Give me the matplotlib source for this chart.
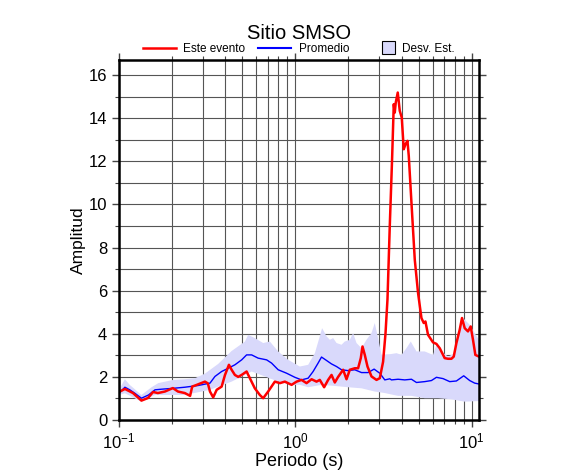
import matplotlib
matplotlib.use("Agg")
import matplotlib.pyplot as plt
from matplotlib.ticker import LogLocator, MultipleLocator, LogFormatterSciNotation, NullFormatter
from matplotlib.patches import Patch, Rectangle
from matplotlib.lines import Line2D
from matplotlib.legend_handler import HandlerPatch

plt.rcParams['font.family'] = ['Liberation Sans', 'DejaVu Sans']
plt.rcParams['mathtext.fontset'] = 'custom'
plt.rcParams['mathtext.rm'] = 'Liberation Sans'
plt.rcParams['mathtext.it'] = 'Liberation Sans:italic'

# --- data ---
event_T = [0.100, 0.108, 0.120, 0.134, 0.146, 0.156, 0.166, 0.182, 0.202, 0.216, 0.236, 0.253,
           0.260, 0.276, 0.307, 0.319, 0.328, 0.342, 0.358, 0.382, 0.399, 0.420, 0.435, 0.454,
           0.474, 0.496, 0.529, 0.552, 0.589, 0.629, 0.657, 0.701, 0.765, 0.817, 0.872, 0.952,
           1.016, 1.084, 1.157, 1.236, 1.318, 1.376, 1.456, 1.534, 1.604, 1.674, 1.748, 1.866,
           1.950, 2.036, 2.173, 2.269, 2.350, 2.403, 2.476, 2.565, 2.703, 2.885, 3.012, 3.144,
           3.244, 3.330, 3.431, 3.536, 3.615, 3.662, 3.710, 3.808, 3.909, 4.012, 4.118, 4.211,
           4.322, 4.397, 4.554, 4.755, 4.964, 5.188, 5.346, 5.466, 5.654, 6.035, 6.310, 6.588,
           7.031, 7.341, 7.674, 7.908, 8.191, 8.551, 8.811, 9.128, 9.528, 9.870, 10.17, 10.49, 11.0]
event_A = [1.30, 1.44, 1.25, 0.90, 1.02, 1.30, 1.25, 1.32, 1.48, 1.32, 1.25, 1.12,
           1.55, 1.63, 1.78, 1.70, 1.32, 1.05, 1.40, 1.55, 2.09, 2.56, 2.33, 2.09,
           2.00, 2.09, 2.25, 1.94, 1.47, 1.16, 1.01, 1.32, 1.78, 1.71, 1.78, 1.63,
           1.78, 1.86, 1.71, 1.89, 1.78, 1.86, 1.52, 1.86, 2.09, 1.74, 2.00, 2.33,
           1.89, 2.33, 2.40, 2.40, 2.87, 3.41, 3.02, 2.48, 2.02, 1.86, 1.94, 2.70,
           4.00, 5.60, 9.00, 12.10, 14.65, 14.26, 14.73, 15.19, 14.34, 14.03, 12.56, 12.79,
           12.95, 12.25, 10.08, 7.44, 5.89, 4.73, 4.50, 4.57, 3.95, 3.60, 3.53, 3.33,
           2.87, 2.84, 2.84, 2.94, 3.57, 4.19, 4.73, 4.26, 4.11, 4.34, 3.72, 3.02, 2.94]

mean_T = [0.100, 0.108, 0.115, 0.123, 0.134, 0.147, 0.160, 0.175, 0.203, 0.236, 0.281, 0.328,
          0.350, 0.382, 0.416, 0.454, 0.496, 0.529, 0.565, 0.615, 0.687, 0.733, 0.799, 0.892,
          0.994, 1.084, 1.182, 1.261, 1.346, 1.407, 1.503, 1.604, 1.712, 1.827, 1.991, 2.173,
          2.372, 2.585, 2.796, 3.012, 3.215, 3.431, 3.508, 3.823, 4.173, 4.554, 4.862, 5.416,
          5.911, 6.310, 6.877, 7.506, 8.191, 9.010, 9.743, 10.40, 11.0]
mean_A = [1.24, 1.52, 1.40, 1.24, 1.01, 1.16, 1.40, 1.43, 1.47, 1.52, 1.60, 1.71,
          2.02, 2.25, 2.40, 2.56, 2.79, 3.02, 3.02, 2.87, 2.79, 2.64, 2.33, 2.17,
          1.98, 1.86, 1.94, 2.25, 2.64, 2.92, 2.76, 2.60, 2.48, 2.33, 2.29, 2.33,
          2.20, 2.20, 2.36, 2.17, 1.86, 1.91, 1.86, 1.89, 1.86, 1.89, 1.74, 1.78,
          1.83, 1.98, 1.92, 1.78, 1.81, 2.05, 1.83, 1.71, 1.67]

upper_T = [0.100, 0.108, 0.115, 0.134, 0.153, 0.167, 0.203, 0.236, 0.270, 0.307, 0.365, 0.435,
           0.518, 0.540, 0.589, 0.657, 0.717, 0.799, 0.911, 1.060, 1.182, 1.290, 1.376, 1.418,
           1.503, 1.569, 1.638, 1.712, 1.827, 1.907, 2.036, 2.126, 2.222, 2.372, 2.532, 2.703,
           2.821, 2.945, 3.079, 3.431, 3.745, 3.997, 4.266, 4.513, 4.862, 5.416, 6.035, 6.310,
           6.735, 7.341, 8.012, 8.928, 9.743, 10.40, 11.0]
upper_A = [1.40, 1.89, 1.63, 1.16, 1.52, 1.71, 1.86, 1.89, 1.94, 2.15, 2.60, 3.20,
           3.64, 3.95, 3.80, 3.57, 3.64, 3.18, 2.79, 2.48, 2.56, 3.10, 3.88, 4.26,
           3.88, 3.72, 3.80, 3.57, 3.49, 3.64, 3.72, 4.03, 3.57, 3.33, 3.72, 4.03,
           4.50, 3.80, 3.02, 3.05, 3.10, 3.02, 3.33, 3.64, 3.18, 3.18, 3.02, 3.49,
           3.18, 2.94, 3.10, 4.73, 4.42, 4.03, 3.72]

lower_T = [0.100, 0.108, 0.134, 0.160, 0.203, 0.236, 0.328, 0.365, 0.435, 0.518, 0.565, 0.672,
           0.799, 0.952, 1.060, 1.182, 1.407, 1.674, 1.991, 2.372, 2.821, 3.215, 3.431, 3.823,
           4.554, 5.416, 6.443, 7.674, 9.128, 11.0]
lower_A = [1.16, 1.24, 0.85, 1.16, 1.16, 1.16, 1.40, 1.55, 1.78, 2.09, 2.25, 2.02,
           1.78, 1.63, 1.63, 1.52, 1.63, 1.58, 1.52, 1.47, 1.32, 1.25, 1.20, 1.12,
           1.12, 1.01, 1.01, 0.96, 0.85, 0.88]

# --- plot ---
fig = plt.figure(figsize=(5.86, 4.75), dpi=100)
ax = fig.add_axes([0.2031, 0.1158, 0.6143, 0.7579])

band_color = '#d9d9fb'
ax.fill(upper_T + lower_T[::-1], upper_A + lower_A[::-1], color=band_color, lw=0, zorder=1)
ax.plot(mean_T, mean_A, color='#0000ff', lw=1.0, zorder=3)
ax.plot(event_T, event_A, color='#ff0000', lw=1.8, zorder=4)

ax.set_xscale('log')
ax.set_xlim(0.1, 11.0)
ax.set_ylim(0, 16.7)

ax.xaxis.set_major_locator(LogLocator(base=10))
ax.xaxis.set_minor_locator(LogLocator(base=10, subs=range(2, 10)))
ax.xaxis.set_major_formatter(LogFormatterSciNotation())
ax.xaxis.set_minor_formatter(NullFormatter())
ax.yaxis.set_major_locator(MultipleLocator(2))
ax.yaxis.set_minor_locator(MultipleLocator(1))

ax.grid(True, which='both', color='#555555', lw=0.8, zorder=0)
ax.set_axisbelow(True)

for s in ax.spines.values():
    s.set_linewidth(1.8)
    s.set_zorder(5)

ax.tick_params(which='both', direction='out', top=True, right=True, labelsize=12, color='#444444')
ax.tick_params(which='major', length=5, width=1.0)
ax.tick_params(which='minor', length=3, width=0.8)

ax.set_xlabel('Periodo (s)', fontsize=13, labelpad=1)
ax.set_ylabel('Amplitud', fontsize=12.5, labelpad=2)
ax.set_title('Sitio SMSO', fontsize=14.5, pad=15)


def square_patch(legend, orig_handle, xdescent, ydescent, width, height, fontsize):
    s = height * 1.6
    return Rectangle((-xdescent + width - s, -ydescent + (height - s) / 2), s, s)


handles = [Line2D([], [], color='#ff0000', lw=1.8),
           Line2D([], [], color='#0000ff', lw=1.5),
           Patch(facecolor=band_color, edgecolor='black', lw=0.8)]
labels = ['Este evento', 'Promedio', 'Desv. Est.']
ax.legend(handles, labels, loc='lower center', bbox_to_anchor=(0.5, 1.0), ncol=3,
          frameon=False, fontsize=8.5, handlelength=2.8, columnspacing=1.1,
          handletextpad=0.6, borderaxespad=0.35, borderpad=0.1,
          handler_map={Patch: HandlerPatch(patch_func=square_patch)})

fig.savefig('out.png', dpi=100)
